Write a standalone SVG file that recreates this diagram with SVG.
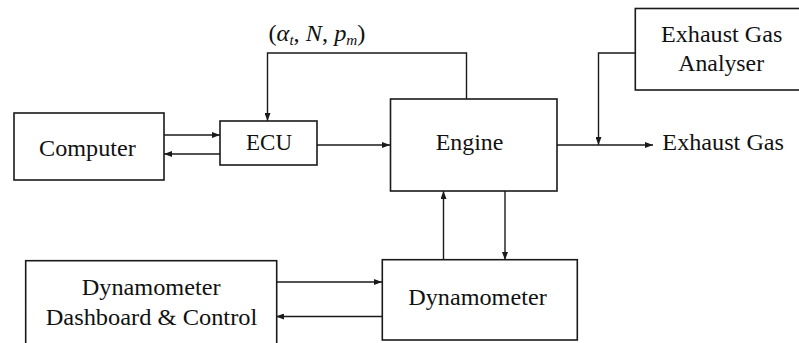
<svg xmlns="http://www.w3.org/2000/svg" width="799" height="343" viewBox="0 0 799 343">
  <style>
    .box { fill: #ffffff; stroke: #1a1a1a; stroke-width: 1.6; }
    .wire { fill: none; stroke: #1a1a1a; stroke-width: 1.4; }
    .lbl { font-family: "Liberation Serif", "Times New Roman", serif; font-size: 24px; fill: #111111; text-anchor: middle; }
    .math { font-family: "Liberation Serif", "Times New Roman", serif; font-size: 24px; fill: #111111; }
    .it { font-style: italic; }
  </style>
  <defs>
    <marker id="arrow" viewBox="0 0 8 6" refX="8" refY="3" markerWidth="8" markerHeight="6" markerUnits="userSpaceOnUse" orient="auto">
      <path d="M0,0 L8,3 L0,6 Z" fill="#1a1a1a"/>
    </marker>
  </defs>
  <rect width="799" height="343" fill="#ffffff"/>

  <!-- connectors -->
  <g id="connectors">
    <!-- Computer <-> ECU -->
    <line class="wire" x1="164" y1="135" x2="220" y2="135" marker-end="url(#arrow)"/>
    <line class="wire" x1="220" y1="154" x2="164" y2="154" marker-end="url(#arrow)"/>
    <!-- ECU -> Engine -->
    <line class="wire" x1="317" y1="145" x2="390" y2="145" marker-end="url(#arrow)"/>
    <!-- Engine feedback to ECU -->
    <polyline class="wire" points="466.5,99 466.5,53 267.5,53 267.5,121" marker-end="url(#arrow)"/>
    <!-- Engine -> Exhaust Gas -->
    <line class="wire" x1="557" y1="145" x2="653" y2="145" marker-end="url(#arrow)"/>
    <!-- Analyser probe into exhaust line -->
    <polyline class="wire" points="635,53 598.5,53 598.5,145" marker-end="url(#arrow)"/>
    <!-- Engine <-> Dynamometer -->
    <line class="wire" x1="443.5" y1="260" x2="443.5" y2="191" marker-end="url(#arrow)"/>
    <line class="wire" x1="505" y1="191" x2="505" y2="260" marker-end="url(#arrow)"/>
    <!-- Dashboard <-> Dynamometer -->
    <line class="wire" x1="276" y1="282" x2="382" y2="282" marker-end="url(#arrow)"/>
    <line class="wire" x1="382" y1="316.5" x2="276" y2="316.5" marker-end="url(#arrow)"/>
  </g>

  <!-- signal label on the feedback path -->
  <text class="math" x="268.5" y="41" textLength="97" lengthAdjust="spacingAndGlyphs">(<tspan class="it">α</tspan><tspan class="it" font-size="15" dy="4">t</tspan><tspan dy="-4">, </tspan><tspan class="it">N</tspan>, <tspan class="it">p</tspan><tspan class="it" font-size="15" dy="4">m</tspan><tspan dy="-4">)</tspan></text>

  <g id="computer">
    <rect class="box" x="14" y="113" width="150" height="67"/>
    <text class="lbl" x="87.4" y="155.5" textLength="96.7" lengthAdjust="spacingAndGlyphs">Computer</text>
  </g>

  <g id="ecu">
    <rect class="box" x="220" y="121" width="97" height="44"/>
    <text class="lbl" x="269" y="150" textLength="46" lengthAdjust="spacingAndGlyphs">ECU</text>
  </g>

  <g id="engine">
    <rect class="box" x="390.5" y="99" width="166.5" height="92"/>
    <text class="lbl" x="469.5" y="150" textLength="67.6" lengthAdjust="spacingAndGlyphs">Engine</text>
  </g>

  <g id="exhaust-gas-analyser">
    <rect class="box" x="635.3" y="8.5" width="170" height="81.5"/>
    <text class="lbl" x="721.7" y="41.5" textLength="121.3" lengthAdjust="spacingAndGlyphs">Exhaust Gas</text>
    <text class="lbl" x="721.2" y="71" textLength="85.7" lengthAdjust="spacingAndGlyphs">Analyser</text>
  </g>

  <g id="exhaust-gas">
    <text class="lbl" x="723.2" y="150" textLength="121.7" lengthAdjust="spacingAndGlyphs">Exhaust Gas</text>
  </g>

  <g id="dashboard">
    <rect class="box" x="25.7" y="260.7" width="251" height="90"/>
    <text class="lbl" x="151.2" y="294.5" textLength="139" lengthAdjust="spacingAndGlyphs">Dynamometer</text>
    <text class="lbl" x="151.5" y="324.5" textLength="211.6" lengthAdjust="spacingAndGlyphs">Dashboard &amp; Control</text>
  </g>

  <g id="dynamometer">
    <rect class="box" x="382.3" y="259.7" width="195" height="80.3"/>
    <text class="lbl" x="477.5" y="304.5" textLength="138.4" lengthAdjust="spacingAndGlyphs">Dynamometer</text>
  </g>
</svg>
